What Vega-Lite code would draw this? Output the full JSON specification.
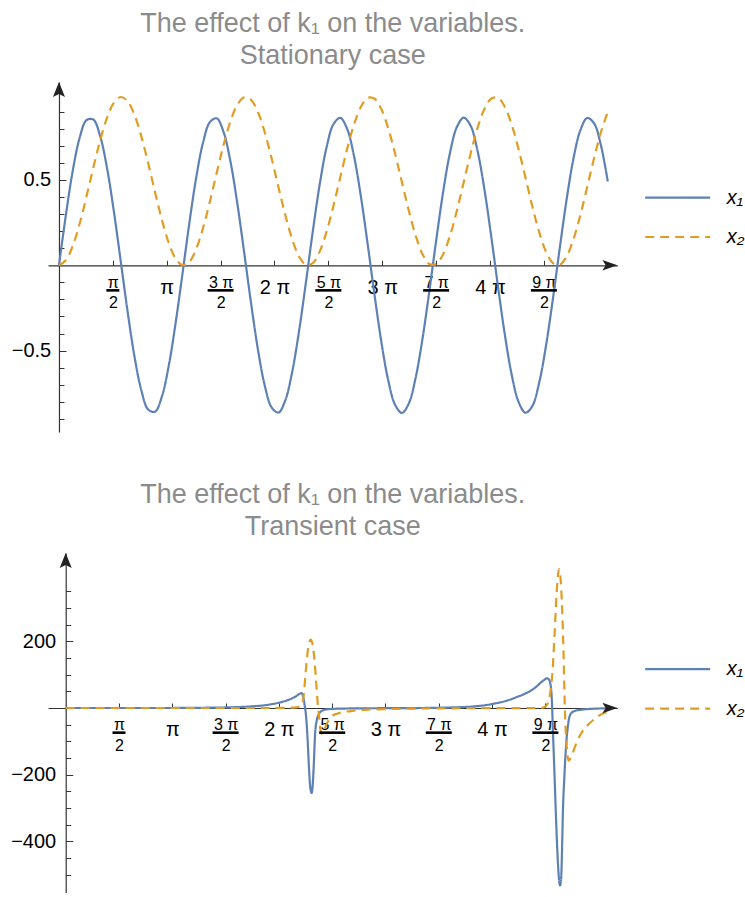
{
  "$schema": "https://vega.github.io/schema/vega-lite/v6.json",
  "background": "white",
  "padding": {"left": 0, "top": 10, "right": 0, "bottom": 0},
  "config": {
    "view": {"stroke": null},
    "font": "Liberation Sans",
    "axis": {"grid": false, "domainColor": "#333333", "tickColor": "#333333", "domainWidth": 1.2, "tickWidth": 1, "labelColor": "#000000", "labelFont": "Liberation Sans", "title": null}
  },
  "columns": 1,
  "align": "none",
  "spacing": 49,
  "resolve": {"scale": {"x": "independent", "y": "independent", "color": "independent", "strokeDash": "independent"}, "legend": {"color": "independent", "strokeDash": "independent"}},
  "datasets": {
    "fractionTicks": [{"t": 1.5707963}, {"t": 4.712389}, {"t": 7.8539816}, {"t": 10.9955743}, {"t": 14.1371669}],
    "stationary": [
      {"t": 0.0, "value": 0, "series": "x₁"}, {"t": 0.2, "value": 0.293, "series": "x₁"}, {"t": 0.4, "value": 0.552, "series": "x₁"}, {"t": 0.6, "value": 0.745, "series": "x₁"}, {"t": 0.8, "value": 0.85, "series": "x₁"}, {"t": 1.0, "value": 0.854, "series": "x₁"}, {"t": 1.2, "value": 0.757, "series": "x₁"}, {"t": 1.4, "value": 0.571, "series": "x₁"}, {"t": 1.6, "value": 0.316, "series": "x₁"}, {"t": 1.8, "value": 0.025, "series": "x₁"},
      {"t": 2.0, "value": -0.27, "series": "x₁"}, {"t": 2.2, "value": -0.533, "series": "x₁"}, {"t": 2.4, "value": -0.732, "series": "x₁"}, {"t": 2.6, "value": -0.845, "series": "x₁"}, {"t": 2.8, "value": -0.858, "series": "x₁"}, {"t": 3.0, "value": -0.769, "series": "x₁"}, {"t": 3.2, "value": -0.589, "series": "x₁"}, {"t": 3.4, "value": -0.339, "series": "x₁"}, {"t": 3.6, "value": -0.05, "series": "x₁"}, {"t": 3.8, "value": 0.246, "series": "x₁"},
      {"t": 4.0, "value": 0.513, "series": "x₁"}, {"t": 4.2, "value": 0.719, "series": "x₁"}, {"t": 4.4, "value": 0.839, "series": "x₁"}, {"t": 4.6, "value": 0.861, "series": "x₁"}, {"t": 4.8, "value": 0.78, "series": "x₁"}, {"t": 5.0, "value": 0.607, "series": "x₁"}, {"t": 5.2, "value": 0.362, "series": "x₁"}, {"t": 5.4, "value": 0.074, "series": "x₁"}, {"t": 5.6, "value": -0.222, "series": "x₁"}, {"t": 5.8, "value": -0.493, "series": "x₁"},
      {"t": 6.0, "value": -0.705, "series": "x₁"}, {"t": 6.2, "value": -0.833, "series": "x₁"}, {"t": 6.4, "value": -0.863, "series": "x₁"}, {"t": 6.6, "value": -0.79, "series": "x₁"}, {"t": 6.8, "value": -0.624, "series": "x₁"}, {"t": 7.0, "value": -0.384, "series": "x₁"}, {"t": 7.2, "value": -0.099, "series": "x₁"}, {"t": 7.4, "value": 0.199, "series": "x₁"}, {"t": 7.6, "value": 0.472, "series": "x₁"}, {"t": 7.8, "value": 0.69, "series": "x₁"},
      {"t": 8.0, "value": 0.826, "series": "x₁"}, {"t": 8.2, "value": 0.864, "series": "x₁"}, {"t": 8.4, "value": 0.8, "series": "x₁"}, {"t": 8.6, "value": 0.641, "series": "x₁"}, {"t": 8.8, "value": 0.406, "series": "x₁"}, {"t": 9.0, "value": 0.123, "series": "x₁"}, {"t": 9.2, "value": -0.174, "series": "x₁"}, {"t": 9.4, "value": -0.451, "series": "x₁"}, {"t": 9.6, "value": -0.675, "series": "x₁"}, {"t": 9.8, "value": -0.818, "series": "x₁"},
      {"t": 10.0, "value": -0.865, "series": "x₁"}, {"t": 10.2, "value": -0.809, "series": "x₁"}, {"t": 10.4, "value": -0.657, "series": "x₁"}, {"t": 10.6, "value": -0.428, "series": "x₁"}, {"t": 10.8, "value": -0.148, "series": "x₁"}, {"t": 11.0, "value": 0.15, "series": "x₁"}, {"t": 11.2, "value": 0.43, "series": "x₁"}, {"t": 11.4, "value": 0.659, "series": "x₁"}, {"t": 11.6, "value": 0.81, "series": "x₁"}, {"t": 11.8, "value": 0.865, "series": "x₁"},
      {"t": 12.0, "value": 0.818, "series": "x₁"}, {"t": 12.2, "value": 0.673, "series": "x₁"}, {"t": 12.4, "value": 0.449, "series": "x₁"}, {"t": 12.6, "value": 0.172, "series": "x₁"}, {"t": 12.8, "value": -0.126, "series": "x₁"}, {"t": 13.0, "value": -0.408, "series": "x₁"}, {"t": 13.2, "value": -0.643, "series": "x₁"}, {"t": 13.4, "value": -0.801, "series": "x₁"}, {"t": 13.6, "value": -0.864, "series": "x₁"}, {"t": 13.8, "value": -0.825, "series": "x₁"},
      {"t": 14.0, "value": -0.688, "series": "x₁"}, {"t": 14.2, "value": -0.47, "series": "x₁"}, {"t": 14.4, "value": -0.196, "series": "x₁"}, {"t": 14.6, "value": 0.101, "series": "x₁"}, {"t": 14.8, "value": 0.386, "series": "x₁"}, {"t": 15.0, "value": 0.626, "series": "x₁"}, {"t": 15.2, "value": 0.791, "series": "x₁"}, {"t": 15.4, "value": 0.863, "series": "x₁"}, {"t": 15.6, "value": 0.832, "series": "x₁"}, {"t": 15.8, "value": 0.703, "series": "x₁"}, {"t": 16.0, "value": 0.491, "series": "x₁"},
      {"t": 0.0, "value": 0, "series": "x₂"}, {"t": 0.2, "value": 0.029, "series": "x₂"}, {"t": 0.4, "value": 0.113, "series": "x₂"}, {"t": 0.6, "value": 0.242, "series": "x₂"}, {"t": 0.8, "value": 0.401, "series": "x₂"}, {"t": 1.0, "value": 0.571, "series": "x₂"}, {"t": 1.2, "value": 0.731, "series": "x₂"}, {"t": 1.4, "value": 0.864, "series": "x₂"}, {"t": 1.6, "value": 0.952, "series": "x₂"}, {"t": 1.8, "value": 0.986, "series": "x₂"},
      {"t": 2.0, "value": 0.961, "series": "x₂"}, {"t": 2.2, "value": 0.882, "series": "x₂"}, {"t": 2.4, "value": 0.756, "series": "x₂"}, {"t": 2.6, "value": 0.599, "series": "x₂"}, {"t": 2.8, "value": 0.429, "series": "x₂"}, {"t": 3.0, "value": 0.267, "series": "x₂"}, {"t": 3.2, "value": 0.132, "series": "x₂"}, {"t": 3.4, "value": 0.04, "series": "x₂"}, {"t": 3.6, "value": 0.001, "series": "x₂"}, {"t": 3.8, "value": 0.02, "series": "x₂"},
      {"t": 4.0, "value": 0.096, "series": "x₂"}, {"t": 4.2, "value": 0.219, "series": "x₂"}, {"t": 4.4, "value": 0.374, "series": "x₂"}, {"t": 4.6, "value": 0.543, "series": "x₂"}, {"t": 4.8, "value": 0.706, "series": "x₂"}, {"t": 5.0, "value": 0.844, "series": "x₂"}, {"t": 5.2, "value": 0.941, "series": "x₂"}, {"t": 5.4, "value": 0.984, "series": "x₂"}, {"t": 5.6, "value": 0.969, "series": "x₂"}, {"t": 5.8, "value": 0.898, "series": "x₂"},
      {"t": 6.0, "value": 0.779, "series": "x₂"}, {"t": 6.2, "value": 0.626, "series": "x₂"}, {"t": 6.4, "value": 0.457, "series": "x₂"}, {"t": 6.6, "value": 0.293, "series": "x₂"}, {"t": 6.8, "value": 0.152, "series": "x₂"}, {"t": 7.0, "value": 0.051, "series": "x₂"}, {"t": 7.2, "value": 0.003, "series": "x₂"}, {"t": 7.4, "value": 0.013, "series": "x₂"}, {"t": 7.6, "value": 0.08, "series": "x₂"}, {"t": 7.8, "value": 0.196, "series": "x₂"},
      {"t": 8.0, "value": 0.347, "series": "x₂"}, {"t": 8.2, "value": 0.515, "series": "x₂"}, {"t": 8.4, "value": 0.681, "series": "x₂"}, {"t": 8.6, "value": 0.824, "series": "x₂"}, {"t": 8.8, "value": 0.928, "series": "x₂"}, {"t": 9.0, "value": 0.981, "series": "x₂"}, {"t": 9.2, "value": 0.976, "series": "x₂"}, {"t": 9.4, "value": 0.914, "series": "x₂"}, {"t": 9.6, "value": 0.802, "series": "x₂"}, {"t": 9.8, "value": 0.653, "series": "x₂"},
      {"t": 10.0, "value": 0.485, "series": "x₂"}, {"t": 10.2, "value": 0.319, "series": "x₂"}, {"t": 10.4, "value": 0.173, "series": "x₂"}, {"t": 10.6, "value": 0.065, "series": "x₂"}, {"t": 10.8, "value": 0.007, "series": "x₂"}, {"t": 11.0, "value": 0.008, "series": "x₂"}, {"t": 11.2, "value": 0.065, "series": "x₂"}, {"t": 11.4, "value": 0.174, "series": "x₂"}, {"t": 11.6, "value": 0.32, "series": "x₂"}, {"t": 11.8, "value": 0.487, "series": "x₂"},
      {"t": 12.0, "value": 0.654, "series": "x₂"}, {"t": 12.2, "value": 0.803, "series": "x₂"}, {"t": 12.4, "value": 0.914, "series": "x₂"}, {"t": 12.6, "value": 0.976, "series": "x₂"}, {"t": 12.8, "value": 0.981, "series": "x₂"}, {"t": 13.0, "value": 0.928, "series": "x₂"}, {"t": 13.2, "value": 0.823, "series": "x₂"}, {"t": 13.4, "value": 0.679, "series": "x₂"}, {"t": 13.6, "value": 0.514, "series": "x₂"}, {"t": 13.8, "value": 0.345, "series": "x₂"},
      {"t": 14.0, "value": 0.195, "series": "x₂"}, {"t": 14.2, "value": 0.079, "series": "x₂"}, {"t": 14.4, "value": 0.013, "series": "x₂"}, {"t": 14.6, "value": 0.003, "series": "x₂"}, {"t": 14.8, "value": 0.052, "series": "x₂"}, {"t": 15.0, "value": 0.153, "series": "x₂"}, {"t": 15.2, "value": 0.294, "series": "x₂"}, {"t": 15.4, "value": 0.459, "series": "x₂"}, {"t": 15.6, "value": 0.627, "series": "x₂"}, {"t": 15.8, "value": 0.78, "series": "x₂"}, {"t": 16.0, "value": 0.899, "series": "x₂"}
    ],
    "transient": [
      {"t": 0, "value": 0, "series": "x₁"}, {"t": 1, "value": 0, "series": "x₁"}, {"t": 2, "value": 0, "series": "x₁"}, {"t": 3, "value": 0, "series": "x₁"}, {"t": 3.5, "value": 0.3, "series": "x₁"}, {"t": 4, "value": 0.7, "series": "x₁"}, {"t": 4.5, "value": 1.3, "series": "x₁"}, {"t": 5, "value": 2.5, "series": "x₁"}, {"t": 5.5, "value": 5, "series": "x₁"}, {"t": 5.8, "value": 7.5, "series": "x₁"},
      {"t": 6.1, "value": 12, "series": "x₁"}, {"t": 6.4, "value": 19, "series": "x₁"}, {"t": 6.65, "value": 28, "series": "x₁"}, {"t": 6.8, "value": 36, "series": "x₁"}, {"t": 6.9, "value": 43, "series": "x₁"}, {"t": 6.95, "value": 45, "series": "x₁"}, {"t": 7.0, "value": 33, "series": "x₁"}, {"t": 7.04, "value": 10, "series": "x₁"}, {"t": 7.08, "value": -20, "series": "x₁"}, {"t": 7.12, "value": -77, "series": "x₁"},
      {"t": 7.17, "value": -179, "series": "x₁"}, {"t": 7.21, "value": -240, "series": "x₁"}, {"t": 7.25, "value": -255, "series": "x₁"}, {"t": 7.29, "value": -215, "series": "x₁"}, {"t": 7.32, "value": -150, "series": "x₁"}, {"t": 7.35, "value": -77, "series": "x₁"}, {"t": 7.4, "value": -37, "series": "x₁"}, {"t": 7.47, "value": -17, "series": "x₁"}, {"t": 7.56, "value": -8, "series": "x₁"}, {"t": 7.7, "value": -4, "series": "x₁"},
      {"t": 7.9, "value": -2.5, "series": "x₁"}, {"t": 8.3, "value": -1.5, "series": "x₁"}, {"t": 9, "value": -0.8, "series": "x₁"}, {"t": 10, "value": -0.3, "series": "x₁"}, {"t": 10.5, "value": 0, "series": "x₁"}, {"t": 11, "value": 0.8, "series": "x₁"}, {"t": 11.5, "value": 2, "series": "x₁"}, {"t": 12, "value": 4.5, "series": "x₁"}, {"t": 12.3, "value": 7.5, "series": "x₁"}, {"t": 12.62, "value": 13, "series": "x₁"},
      {"t": 13, "value": 22, "series": "x₁"}, {"t": 13.3, "value": 33, "series": "x₁"}, {"t": 13.6, "value": 46, "series": "x₁"}, {"t": 13.85, "value": 62, "series": "x₁"}, {"t": 14.0, "value": 76, "series": "x₁"}, {"t": 14.1, "value": 84, "series": "x₁"}, {"t": 14.18, "value": 89, "series": "x₁"}, {"t": 14.24, "value": 86, "series": "x₁"}, {"t": 14.29, "value": 70, "series": "x₁"}, {"t": 14.33, "value": 20, "series": "x₁"},
      {"t": 14.36, "value": -70, "series": "x₁"}, {"t": 14.38, "value": -125, "series": "x₁"}, {"t": 14.42, "value": -240, "series": "x₁"}, {"t": 14.45, "value": -327, "series": "x₁"}, {"t": 14.5, "value": -450, "series": "x₁"}, {"t": 14.54, "value": -515, "series": "x₁"}, {"t": 14.57, "value": -532, "series": "x₁"}, {"t": 14.6, "value": -515, "series": "x₁"}, {"t": 14.63, "value": -420, "series": "x₁"}, {"t": 14.65, "value": -327, "series": "x₁"},
      {"t": 14.7, "value": -200, "series": "x₁"}, {"t": 14.74, "value": -125, "series": "x₁"}, {"t": 14.8, "value": -55, "series": "x₁"}, {"t": 14.88, "value": -18, "series": "x₁"}, {"t": 15.0, "value": -9, "series": "x₁"}, {"t": 15.2, "value": -5, "series": "x₁"}, {"t": 15.5, "value": -2.5, "series": "x₁"}, {"t": 16.0, "value": -1, "series": "x₁"},
      {"t": 0, "value": 0, "series": "x₂"}, {"t": 2, "value": 0, "series": "x₂"}, {"t": 4, "value": 0, "series": "x₂"}, {"t": 5, "value": 0, "series": "x₂"}, {"t": 6, "value": 0, "series": "x₂"}, {"t": 6.5, "value": 0.5, "series": "x₂"}, {"t": 6.8, "value": 2, "series": "x₂"}, {"t": 6.93, "value": 5, "series": "x₂"}, {"t": 6.98, "value": 15, "series": "x₂"}, {"t": 7.02, "value": 44, "series": "x₂"},
      {"t": 7.07, "value": 104, "series": "x₂"}, {"t": 7.14, "value": 175, "series": "x₂"}, {"t": 7.19, "value": 200, "series": "x₂"}, {"t": 7.22, "value": 205, "series": "x₂"}, {"t": 7.26, "value": 198, "series": "x₂"}, {"t": 7.3, "value": 175, "series": "x₂"}, {"t": 7.37, "value": 94, "series": "x₂"}, {"t": 7.42, "value": 23, "series": "x₂"}, {"t": 7.45, "value": -7, "series": "x₂"}, {"t": 7.5, "value": -60, "series": "x₂"},
      {"t": 7.55, "value": -78, "series": "x₂"}, {"t": 7.6, "value": -70, "series": "x₂"}, {"t": 7.65, "value": -58, "series": "x₂"}, {"t": 7.72, "value": -42, "series": "x₂"}, {"t": 7.81, "value": -27, "series": "x₂"}, {"t": 8.0, "value": -17, "series": "x₂"}, {"t": 8.2, "value": -12, "series": "x₂"}, {"t": 8.5, "value": -8, "series": "x₂"}, {"t": 8.9, "value": -5, "series": "x₂"}, {"t": 9.6, "value": -3, "series": "x₂"},
      {"t": 10.5, "value": -1.5, "series": "x₂"}, {"t": 11.5, "value": -0.8, "series": "x₂"}, {"t": 12.5, "value": -0.5, "series": "x₂"}, {"t": 13.5, "value": -0.3, "series": "x₂"}, {"t": 14.0, "value": 0, "series": "x₂"}, {"t": 14.1, "value": 2, "series": "x₂"}, {"t": 14.17, "value": 8, "series": "x₂"}, {"t": 14.24, "value": 23, "series": "x₂"}, {"t": 14.3, "value": 60, "series": "x₂"}, {"t": 14.34, "value": 99, "series": "x₂"},
      {"t": 14.41, "value": 225, "series": "x₂"}, {"t": 14.47, "value": 347, "series": "x₂"}, {"t": 14.51, "value": 400, "series": "x₂"}, {"t": 14.54, "value": 417, "series": "x₂"}, {"t": 14.57, "value": 405, "series": "x₂"}, {"t": 14.62, "value": 326, "series": "x₂"}, {"t": 14.67, "value": 175, "series": "x₂"}, {"t": 14.71, "value": 3, "series": "x₂"}, {"t": 14.76, "value": -108, "series": "x₂"}, {"t": 14.8, "value": -150, "series": "x₂"},
      {"t": 14.83, "value": -158, "series": "x₂"}, {"t": 14.87, "value": -152, "series": "x₂"}, {"t": 14.93, "value": -138, "series": "x₂"}, {"t": 15.08, "value": -98, "series": "x₂"}, {"t": 15.2, "value": -75, "series": "x₂"}, {"t": 15.38, "value": -52, "series": "x₂"}, {"t": 15.6, "value": -32, "series": "x₂"}, {"t": 15.82, "value": -17, "series": "x₂"}, {"t": 16.0, "value": -12, "series": "x₂"}
    ]
  },
  "concat": [
    {
      "width": 569.4,
      "height": 350,
      "title": {"text": ["The effect of k₁ on the variables.", "Stationary case"], "font": "Liberation Sans", "fontSize": 27, "fontWeight": "normal", "color": "#8b8b8b", "lineHeight": 32, "anchor": "middle", "frame": "group", "offset": 12},
      "resolve": {"axis": {"y": "independent"}},
      "layer": [
        {
          "data": {"name": "stationary"},
          "mark": {"type": "line", "strokeWidth": 2.2, "interpolate": "catmull-rom"},
          "encoding": {
            "x": {"field": "t", "type": "quantitative", "scale": {"domain": [-0.32, 16.28], "nice": false, "zero": false},
              "axis": {"values": [1.5707963, 3.1415927, 4.712389, 6.2831853, 7.8539816, 9.424778, 10.9955743, 12.5663706, 14.1371669], "offset": -166.7, "tickSize": -5, "labelPadding": 27, "labelLineHeight": 20.3, "labelOverlap": false, "labelFlush": false,
                "labelBaseline": {"condition": {"test": "round(datum.value*2/PI) % 2 == 1", "value": "alphabetic"}, "value": "middle"},
                "labelFontSize": {"condition": {"test": "round(datum.value*2/PI) % 2 == 1", "value": 16}, "value": 20},
                "labelExpr": "round(datum.value*2/PI) % 2 == 1 ? [round(datum.value*2/PI) == 1 ? 'π' : round(datum.value*2/PI) + ' π', '2'] : (round(datum.value*2/PI) == 2 ? 'π' : round(datum.value/PI) + ' π')"}},
            "y": {"field": "value", "type": "quantitative", "scale": {"domain": [-0.977, 1.074], "nice": false, "zero": false},
              "axis": {"orient": "left", "values": [-0.5, 0.5], "format": ".1f", "offset": -10.98, "tickSize": -7, "labelPadding": 15.3, "labelFontSize": 20, "labelOverlap": false, "minExtent": 58.3}},
            "color": {"field": "series", "type": "nominal", "scale": {"domain": ["x₁", "x₂"], "range": ["#5E81B5", "#E19C24"]},
              "legend": {"orient": "none", "legendX": 619.7, "legendY": 105.6, "title": null, "symbolType": "M -6.5 0 H 6.5", "symbolSize": 100, "symbolStrokeWidth": 2.2, "labelFontSize": 20, "labelFontStyle": "italic", "labelOffset": 39, "rowPadding": 19.4, "labelColor": "#000000", "labelFont": "Liberation Sans"}},
            "strokeDash": {"field": "series", "type": "nominal", "scale": {"domain": ["x₁", "x₂"], "range": [[1, 0], [9, 6]]},
              "legend": {"orient": "none", "legendX": 619.7, "legendY": 105.6, "title": null, "symbolType": "M -6.5 0 H 6.5", "symbolSize": 100, "symbolStrokeWidth": 2.2, "labelFontSize": 20, "labelFontStyle": "italic", "labelOffset": 39, "rowPadding": 19.4, "labelColor": "#000000", "labelFont": "Liberation Sans"}}
          }
        },
        {
          "data": {"name": "fractionTicks"},
          "mark": {"type": "tick", "orient": "horizontal", "thickness": 2.6, "color": "#000000", "opacity": 1},
          "encoding": {
            "x": {"field": "t", "type": "quantitative"},
            "y": {"datum": -0.147, "type": "quantitative", "axis": null},
            "size": {"condition": {"test": "datum.t < 2", "value": 13}, "value": 26}
          }
        },
        {
          "data": {"values": [{}]},
          "mark": {"type": "point", "shape": "M 0 0 L -1 -0.35 L -0.78 0 L -1 0.35 Z", "size": 900, "filled": true, "color": "#222222", "opacity": 1},
          "encoding": {"x": {"datum": 16.28, "type": "quantitative"}, "y": {"datum": 0, "type": "quantitative", "axis": null}}
        },
        {
          "data": {"values": [{}]},
          "mark": {"type": "point", "shape": "M 0 0 L -0.4 1 L 0 0.8 L 0.4 1 Z", "size": 900, "filled": true, "color": "#222222", "opacity": 1},
          "encoding": {"x": {"datum": 0, "type": "quantitative"},
            "y": {"datum": 1.074, "type": "quantitative",
              "axis": {"orient": "left", "values": [-0.9, -0.8, -0.7, -0.6, -0.4, -0.3, -0.2, -0.1, 0.1, 0.2, 0.3, 0.4, 0.6, 0.7, 0.8, 0.9], "labels": false, "domain": false, "offset": -10.98, "tickSize": -5, "minExtent": 58.3}}}
        }
      ]
    },
    {
      "width": 569.4,
      "height": 340,
      "title": {"text": ["The effect of k₁ on the variables.", "Transient case"], "font": "Liberation Sans", "fontSize": 27, "fontWeight": "normal", "color": "#8b8b8b", "lineHeight": 32, "anchor": "middle", "frame": "group", "offset": 12},
      "resolve": {"axis": {"y": "independent"}},
      "layer": [
        {
          "data": {"name": "transient"},
          "mark": {"type": "line", "strokeWidth": 2.2, "interpolate": "monotone"},
          "encoding": {
            "x": {"field": "t", "type": "quantitative", "scale": {"domain": [-0.522, 16.26], "nice": false, "zero": false},
              "axis": {"values": [1.5707963, 3.1415927, 4.712389, 6.2831853, 7.8539816, 9.424778, 10.9955743, 12.5663706, 14.1371669], "offset": -185, "tickSize": -5, "labelPadding": 27, "labelLineHeight": 20.3, "labelOverlap": false, "labelFlush": false,
                "labelBaseline": {"condition": {"test": "round(datum.value*2/PI) % 2 == 1", "value": "alphabetic"}, "value": "middle"},
                "labelFontSize": {"condition": {"test": "round(datum.value*2/PI) % 2 == 1", "value": 16}, "value": 20},
                "labelExpr": "round(datum.value*2/PI) % 2 == 1 ? [round(datum.value*2/PI) == 1 ? 'π' : round(datum.value*2/PI) + ' π', '2'] : (round(datum.value*2/PI) == 2 ? 'π' : round(datum.value/PI) + ' π')"}},
            "y": {"field": "value", "type": "quantitative", "scale": {"domain": [-555, 465], "nice": false, "zero": false},
              "axis": {"orient": "left", "values": [-400, -200, 200], "format": "d", "offset": -17.7, "tickSize": -7, "labelPadding": 17, "labelFontSize": 20, "labelOverlap": false, "minExtent": 65}},
            "color": {"field": "series", "type": "nominal", "scale": {"domain": ["x₁", "x₂"], "range": ["#5E81B5", "#E19C24"]},
              "legend": {"orient": "none", "legendX": 619.7, "legendY": 106.2, "title": null, "symbolType": "M -6.5 0 H 6.5", "symbolSize": 100, "symbolStrokeWidth": 2.2, "labelFontSize": 20, "labelFontStyle": "italic", "labelOffset": 39, "rowPadding": 19.4, "labelColor": "#000000", "labelFont": "Liberation Sans"}},
            "strokeDash": {"field": "series", "type": "nominal", "scale": {"domain": ["x₁", "x₂"], "range": [[1, 0], [9, 6]]},
              "legend": {"orient": "none", "legendX": 619.7, "legendY": 106.2, "title": null, "symbolType": "M -6.5 0 H 6.5", "symbolSize": 100, "symbolStrokeWidth": 2.2, "labelFontSize": 20, "labelFontStyle": "italic", "labelOffset": 39, "rowPadding": 19.4, "labelColor": "#000000", "labelFont": "Liberation Sans"}}
          }
        },
        {
          "data": {"name": "fractionTicks"},
          "mark": {"type": "tick", "orient": "horizontal", "thickness": 2.6, "color": "#000000", "opacity": 1},
          "encoding": {
            "x": {"field": "t", "type": "quantitative"},
            "y": {"datum": -74, "type": "quantitative", "axis": null},
            "size": {"condition": {"test": "datum.t < 2", "value": 13}, "value": 26}
          }
        },
        {
          "data": {"values": [{}]},
          "mark": {"type": "point", "shape": "M 0 0 L -1 -0.35 L -0.78 0 L -1 0.35 Z", "size": 900, "filled": true, "color": "#222222", "opacity": 1},
          "encoding": {"x": {"datum": 16.26, "type": "quantitative"}, "y": {"datum": 0, "type": "quantitative", "axis": null}}
        },
        {
          "data": {"values": [{}]},
          "mark": {"type": "point", "shape": "M 0 0 L -0.4 1 L 0 0.8 L 0.4 1 Z", "size": 900, "filled": true, "color": "#222222", "opacity": 1},
          "encoding": {"x": {"datum": 0, "type": "quantitative"},
            "y": {"datum": 465, "type": "quantitative",
              "axis": {"orient": "left", "values": [-500, -450, -350, -300, -250, -150, -100, -50, 50, 100, 150, 250, 300, 350], "labels": false, "domain": false, "offset": -17.7, "tickSize": -5, "minExtent": 65}}}
        }
      ]
    }
  ]
}
